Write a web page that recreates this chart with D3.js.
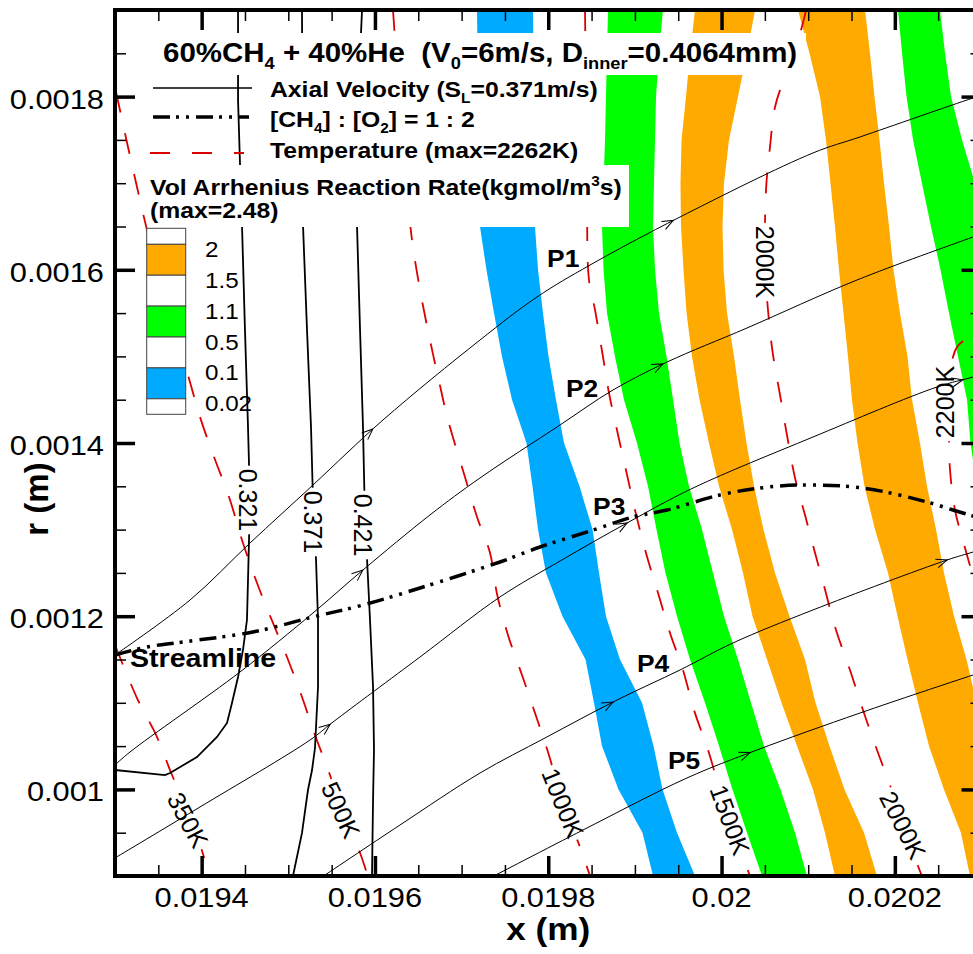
<!DOCTYPE html>
<html>
<head>
<meta charset="utf-8">
<script src="https://cdn.jsdelivr.net/npm/d3@7"></script>
<style>
  html, body { margin: 0; padding: 0; background: #fff; overflow: hidden; }
  svg { display: block; font-family: "Liberation Sans", Arial, Helvetica, sans-serif; }
  text { white-space: pre; }
</style>
</head>
<body>
<svg id="chart" width="973" height="954"></svg>
<script>
// ---------------- data (metres) ----------------
// radial levels shared by the flood-band boundaries (top to bottom)
const rGrid = [0.0019, 0.00185, 0.0018, 0.00175, 0.0017, 0.00165, 0.0016, 0.00155, 0.0015, 0.00145,
               0.0014, 0.00135, 0.0013, 0.00125, 0.0012, 0.00115, 0.0011, 0.00105, 0.001, 0.00095, 0.0009];

// reaction-rate band boundaries: axial position x at each rGrid level
const blueLeft    = [0.0197178,0.0197183,0.0197189,0.0197195,0.0197201,0.0197212,0.0197287,0.0197374,0.0197466,0.0197582,0.0197749,0.0197818,0.0197882,0.0197974,0.0198164,0.0198430,0.0198528,0.0198620,0.0198811,0.0199088,0.0199209];
const blueRight   = [0.0197824,0.0197830,0.0197836,0.0197839,0.0197842,0.0197847,0.0197882,0.0197939,0.0198003,0.0198089,0.0198182,0.0198361,0.0198511,0.0198586,0.0198666,0.0198828,0.0199082,0.0199215,0.0199319,0.0199486,0.0199694];
const greenLeft   = [0.0198690,0.0198678,0.0198666,0.0198655,0.0198638,0.0198620,0.0198638,0.0198678,0.0198770,0.0198874,0.0199024,0.0199151,0.0199249,0.0199353,0.0199486,0.0199636,0.0199809,0.0199971,0.0200126,0.0200294,0.0200467];
const greenRight  = [0.0199324,0.0199278,0.0199244,0.0199232,0.0199220,0.0199209,0.0199232,0.0199278,0.0199365,0.0199440,0.0199515,0.0199624,0.0199774,0.0199901,0.0200028,0.0200190,0.0200340,0.0200490,0.0200680,0.0200848,0.0200986];
const orangeLeft  = [0.0199694,0.0199636,0.0199590,0.0199538,0.0199526,0.0199532,0.0199561,0.0199596,0.0199659,0.0199746,0.0199855,0.0199971,0.0200121,0.0200248,0.0200357,0.0200525,0.0200692,0.0200871,0.0201055,0.0201194,0.0201309];
const orangeRight = [0.0200386,0.0200294,0.0200190,0.0200086,0.0200028,0.0200011,0.0200023,0.0200063,0.0200144,0.0200213,0.0200288,0.0200375,0.0200484,0.0200617,0.0200784,0.0200963,0.0201084,0.0201246,0.0201419,0.0201644,0.0201794];
const orange2Left = [0.0200882,0.0201015,0.0201136,0.0201205,0.0201257,0.0201309,0.0201355,0.0201407,0.0201459,0.0201505,0.0201569,0.0201650,0.0201771,0.0201921,0.0202031,0.0202146,0.0202267,0.0202394,0.0202567,0.0202763,0.0202867];
const orange2Right= [0.0201656,0.0201713,0.0201765,0.0201823,0.0201875,0.0201933,0.0201984,0.0202059,0.0202146,0.0202198,0.0202290,0.0202371,0.0202475,0.0202567,0.0202683,0.0202827,0.0202943,null,null,null,null];
const green2Left  = [0.0202036,0.0202083,0.0202135,0.0202210,0.0202313,0.0202417,0.0202527,0.0202625,0.0202729,0.0202833,0.0202873,0.0202948,0.0203040,null,null,null,null,null,null,null,null];
const green2Right = [0.0202521,0.0202579,0.0202648,0.0202775,0.0202925,0.0203075,null,null,null,null,null,null,null,null,null,null,null,null,null,null,null];

// temperature iso-lines [x, r]
const temp350  = [[0.0193000,0.0011667],[0.0193254,0.0011055],[0.0193485,0.0010605],[0.0193658,0.0010166],[0.0193866,0.0009704],[0.0194096,0.0008988]];
const temp500  = [[0.0193012,0.0018053],[0.0193150,0.0017418],[0.0193254,0.0016956],[0.0193369,0.0016460],[0.0193519,0.0015882],[0.0193658,0.0015340],[0.0193831,0.0014820],[0.0193981,0.0014300],[0.0194143,0.0013838],[0.0194316,0.0013376],[0.0194477,0.0012845],[0.0194639,0.0012383],[0.0194823,0.0011922],[0.0194985,0.0011529],[0.0195158,0.0011067],[0.0195308,0.0010628],[0.0195481,0.0010166],[0.0195608,0.0009762],[0.0195828,0.0009266],[0.0195920,0.0008988]];
const temp1000 = [[0.0196208,0.0019000],[0.0196266,0.0018192],[0.0196347,0.0017152],[0.0196428,0.0016344],[0.0196531,0.0015709],[0.0196647,0.0015132],[0.0196762,0.0014612],[0.0196843,0.0014266],[0.0197039,0.0013607],[0.0197178,0.0013146],[0.0197328,0.0012730],[0.0197409,0.0012256],[0.0197535,0.0011783],[0.0197697,0.0011321],[0.0197847,0.0010882],[0.0197997,0.0010432],[0.0198170,0.0009843],[0.0198366,0.0009335],[0.0198482,0.0009000]];
const temp1500 = [[0.0198424,0.0019000],[0.0198436,0.0017961],[0.0198447,0.0016806],[0.0198470,0.0015882],[0.0198540,0.0015536],[0.0198632,0.0014993],[0.0198701,0.0014577],[0.0198793,0.0014150],[0.0198897,0.0013688],[0.0199001,0.0013226],[0.0199128,0.0012730],[0.0199267,0.0012268],[0.0199405,0.0011806],[0.0199555,0.0011379],[0.0199682,0.0010917],[0.0199844,0.0010455],[0.0199948,0.0010109],[0.0200098,0.0009670],[0.0200248,0.0009219],[0.0200328,0.0009000]];
const temp2000 = [[0.0200975,0.0019000],[0.0200917,0.0018769],[0.0200732,0.0018238],[0.0200617,0.0017880],[0.0200559,0.0017418],[0.0200513,0.0016921],[0.0200502,0.0016090],[0.0200536,0.0015536],[0.0200594,0.0015016],[0.0200675,0.0014554],[0.0200755,0.0014092],[0.0200848,0.0013596],[0.0200963,0.0013169],[0.0201079,0.0012730],[0.0201171,0.0012395],[0.0201321,0.0011841],[0.0201482,0.0011379],[0.0201632,0.0010917],[0.0201794,0.0010455],[0.0201944,0.0010051],[0.0202106,0.0009589],[0.0202267,0.0009115],[0.0202313,0.0009000]];
const temp2200 = [[0.0202787,0.0015178],[0.0202717,0.0015109],[0.0202671,0.0014993],[0.0202648,0.0014843],[0.0202625,0.0014497],[0.0202625,0.0014035],[0.0202637,0.0013688],[0.0202694,0.0013226],[0.0202810,0.0012788],[0.0202890,0.0012510],[0.0203040,0.0012072]];

// axial-velocity iso-lines [x, r]
const vel321 = [[0.0194420,0.0019000],[0.0194420,0.0017961],[0.0194443,0.0017210],[0.0194466,0.0016506],[0.0194500,0.0015305],[0.0194535,0.0014185],[0.0194558,0.0013342],[0.0194535,0.0012418],[0.0194523,0.0011956],[0.0194477,0.0011610],[0.0194420,0.0011298],[0.0194350,0.0010998],[0.0194293,0.0010767],[0.0194177,0.0010605],[0.0193946,0.0010374],[0.0193635,0.0010189],[0.0193577,0.0010166],[0.0193000,0.0010224]];
const vel371 = [[0.0195158,0.0019000],[0.0195170,0.0016506],[0.0195216,0.0015305],[0.0195262,0.0014185],[0.0195285,0.0013342],[0.0195320,0.0012649],[0.0195343,0.0011956],[0.0195343,0.0011182],[0.0195308,0.0010478],[0.0195274,0.0010224],[0.0195227,0.0009993],[0.0195158,0.0009497],[0.0195054,0.0009000]];
const vel421 = [[0.0195851,0.0019000],[0.0195804,0.0017961],[0.0195793,0.0016506],[0.0195828,0.0015305],[0.0195862,0.0014185],[0.0195885,0.0013111],[0.0195908,0.0012672],[0.0195943,0.0011956],[0.0195978,0.0011182],[0.0195989,0.0010455],[0.0195978,0.0009878],[0.0195966,0.0009000]];

// streamlines [x, r] and the x positions of their direction arrows
const stream1 = [[0.0193000,0.0011552],[0.0193866,0.0012187],[0.0194558,0.0012845],[0.0195285,0.0013515],[0.0196093,0.0014266],[0.0197212,0.0015189],[0.0197870,0.0015686],[0.0198482,0.0016055],[0.0199521,0.0016610],[0.0201055,0.0017349],[0.0201598,0.0017534],[0.0202902,0.0017984],[0.0203156,0.0018065]];
const stream2 = [[0.0193000,0.0010282],[0.0193173,0.0010432],[0.0194443,0.0011356],[0.0195285,0.0012037],[0.0195862,0.0012534],[0.0196635,0.0013169],[0.0197212,0.0013596],[0.0198136,0.0014208],[0.0198747,0.0014612],[0.0199371,0.0014935],[0.0200294,0.0015328],[0.0201563,0.0015882],[0.0202902,0.0016379],[0.0203156,0.0016471]];
const stream3 = [[0.0193000,0.0009208],[0.0193981,0.0009797],[0.0195250,0.0010570],[0.0195516,0.0010778],[0.0196520,0.0011529],[0.0197443,0.0012222],[0.0198136,0.0012637],[0.0198909,0.0013076],[0.0199671,0.0013480],[0.0201055,0.0014069],[0.0202487,0.0014647],[0.0202902,0.0014762],[0.0203156,0.0014843]];
const stream4 = [[0.0195389,0.0008988],[0.0196289,0.0009589],[0.0197212,0.0010189],[0.0197963,0.0010594],[0.0198793,0.0011032],[0.0199521,0.0011379],[0.0200132,0.0011691],[0.0201055,0.0012072],[0.0202602,0.0012649],[0.0202902,0.0012741],[0.0203156,0.0012822]];
const stream5 = [[0.0197328,0.0008977],[0.0198401,0.0009531],[0.0199601,0.0010132],[0.0200409,0.0010455],[0.0201598,0.0010882],[0.0202902,0.0011321],[0.0203156,0.0011402]];
const arrows1 = [0.0195978, 0.0199440];
const arrows2 = [0.0195862, 0.0199324];
const arrows3 = [0.0195481, 0.0198909, 0.0202787];
const arrows4 = [0.0198747, 0.0202602];
const arrows5 = [0.0200328];

// stoichiometric line [CH4]:[O2] = 1:2
const stoich = [[0.0193000,0.0011552],[0.0193369,0.0011644],[0.0193785,0.0011702],[0.0194593,0.0011818],[0.0195285,0.0011991],[0.0195862,0.0012129],[0.0196520,0.0012326],[0.0197443,0.0012626],[0.0197905,0.0012799],[0.0198517,0.0012995],[0.0198978,0.0013146],[0.0199371,0.0013226],[0.0199982,0.0013400],[0.0200444,0.0013480],[0.0200905,0.0013515],[0.0201632,0.0013480],[0.0202371,0.0013319],[0.0202671,0.0013226],[0.0202902,0.0013157],[0.0203156,0.0013076]];

// contour labels
const tempLabels = [
  {text: '350K',  x: 0.0193842, r: 0.0009647, angle: 62},
  {text: '500K',  x: 0.0195608, r: 0.0009762, angle: 65},
  {text: '1000K', x: 0.0198170, r: 0.0009843, angle: 68},
  {text: '1500K', x: 0.0200098, r: 0.0009647, angle: 70},
  {text: '2000K', x: 0.0200502, r: 0.0016090, angle: 90},
  {text: '2000K', x: 0.0202094, r: 0.0009589, angle: 63},
  {text: '2200K', x: 0.0202579, r: 0.0014473, angle: -90}
];
const velLabels = [
  {text: '0.321', x: 0.0194535, r: 0.0013342, angle: 90},
  {text: '0.371', x: 0.0195285, r: 0.0013088, angle: 90},
  {text: '0.421', x: 0.0195862, r: 0.0013053, angle: 90}
];
const streamNames = [
  {text: 'P1', x: 0.0197986, r: 0.0016032},
  {text: 'P2', x: 0.0198205, r: 0.0014531},
  {text: 'P3', x: 0.0198517, r: 0.0013169},
  {text: 'P4', x: 0.0199024, r: 0.0011356},
  {text: 'P5', x: 0.0199382, r: 0.0010236},
  {text: 'Streamline', x: 0.0193173, r: 0.0011413}
];

// axis ticks
const xMajor = [0.0194, 0.0196, 0.0198, 0.02, 0.0202];
const xMajorLabels = ['0.0194', '0.0196', '0.0198', '0.02', '0.0202'];
const yMajor = [0.001, 0.0012, 0.0014, 0.0016, 0.0018];
const yMajorLabels = ['0.001', '0.0012', '0.0014', '0.0016', '0.0018'];

// reaction-rate legend
const rateLevels = ['2', '1.5', '1.1', '0.5', '0.1', '0.02'];
const rateColors = ['#ffffff', '#ffaa00', '#ffffff', '#00ff00', '#ffffff', '#00aaff', '#ffffff'];

// ---------------- drawing ----------------
const W = 973, H = 954;
const L = 115, T = 10, R = 981.5, B = 876;
const TXT = 1.1; // horizontal glyph stretch

const x = d3.scaleLinear().domain([0.0193, 0.0203]).range([L, R]);
const y = d3.scaleLinear().domain([0.0009, 0.0019]).range([B, T]);
const xEdge = x.domain()[1] + 0.0001;

const svg = d3.select('#chart');
svg.append('rect').attr('width', W).attr('height', H).attr('fill', '#fff');
const defs = svg.append('defs');
defs.append('clipPath').attr('id', 'plotClip')
  .append('rect').attr('x', L).attr('y', T).attr('width', R - L).attr('height', B - T);
const gapMask = defs.append('mask').attr('id', 'gaps')
  .attr('maskUnits', 'userSpaceOnUse').attr('x', 0).attr('y', 0).attr('width', W).attr('height', H);
gapMask.append('rect').attr('width', W).attr('height', H).attr('fill', '#fff');

const plot = svg.append('g').attr('clip-path', 'url(#plotClip)');

// flood bands
const bands = [
  {left: blueLeft, right: blueRight, color: '#00aaff'},
  {left: greenLeft, right: greenRight, color: '#00ff00'},
  {left: orangeLeft, right: orangeRight, color: '#ffaa00'},
  {left: orange2Left, right: orange2Right, color: '#ffaa00'},
  {left: green2Left, right: green2Right, color: '#00ff00'}
];
const idx = d3.range(rGrid.length);
plot.selectAll('path.band').data(bands).join('path')
  .attr('class', 'band')
  .attr('fill', b => b.color)
  .attr('d', b => d3.area()
    .defined(i => b.left[i] != null)
    .y(i => y(rGrid[i]))
    .x0(i => x(b.left[i]))
    .x1(i => x(b.right[i] != null ? b.right[i] : xEdge))(idx));

const straight = d3.line().x(d => x(d[0])).y(d => y(d[1]));
const smooth = d3.line().x(d => x(d[0])).y(d => y(d[1])).curve(d3.curveCatmullRom.alpha(0.5));

// temperature iso-lines
const tempG = plot.append('g').attr('mask', 'url(#gaps)');
[temp350, temp500, temp1000, temp1500, temp2000, temp2200].forEach(c => {
  tempG.append('path').attr('d', smooth(c)).attr('fill', 'none')
    .attr('stroke', '#dd0000').attr('stroke-width', 1.8).attr('stroke-dasharray', '21,21');
});

// streamlines with arrowheads
const streamG = plot.append('g');
[[stream1, arrows1], [stream2, arrows2], [stream3, arrows3], [stream4, arrows4], [stream5, arrows5]].forEach(([s, arr]) => {
  const p = streamG.append('path').attr('d', smooth(s)).attr('fill', 'none')
    .attr('stroke', '#000').attr('stroke-width', 1);
  const node = p.node();
  const len = node.getTotalLength();
  arr.forEach(ax => {
    const tx = x(ax);
    let best = 0, bestD = Infinity;
    for (let l = 0; l <= len; l += 0.5) {
      const pt = node.getPointAtLength(l);
      const d = Math.abs(pt.x - tx);
      if (d < bestD) { bestD = d; best = l; }
    }
    const p0 = node.getPointAtLength(Math.max(0, best - 2));
    const p1 = node.getPointAtLength(Math.min(len, best + 2));
    const pt = node.getPointAtLength(best);
    const ang = Math.atan2(p1.y - p0.y, p1.x - p0.x) * 180 / Math.PI;
    streamG.append('path')
      .attr('d', 'M-11,-4.5L0,0L-11,4.5')
      .attr('transform', `translate(${pt.x},${pt.y}) rotate(${ang})`)
      .attr('fill', 'none').attr('stroke', '#000').attr('stroke-width', 1);
  });
});

// stoichiometric line
plot.append('path').attr('d', smooth(stoich)).attr('fill', 'none')
  .attr('stroke', '#000').attr('stroke-width', 3.5).attr('stroke-dasharray', '17,6,3,7,3,7');

// axial-velocity iso-lines (two of them sit beneath the legend panel)
const velG = plot.append('g').attr('mask', 'url(#gaps)');
[vel371, vel421].forEach(c => {
  velG.append('path').attr('d', straight(c)).attr('fill', 'none')
    .attr('stroke', '#000').attr('stroke-width', 1.8);
});

// legend panel for the line styles
plot.append('rect').attr('x', 148).attr('y', 75).attr('width', 455).attr('height', 90).attr('fill', '#fff');

plot.append('path').attr('d', straight(vel321)).attr('fill', 'none')
  .attr('stroke', '#000').attr('stroke-width', 1.8).attr('mask', 'url(#gaps)');

// title panel and reaction-rate header panel
plot.append('rect').attr('x', 148).attr('y', 33).attr('width', 658).attr('height', 42).attr('fill', '#fff');
plot.append('rect').attr('x', 148).attr('y', 165).attr('width', 481).attr('height', 62).attr('fill', '#fff');

// contour labels plus the gaps they leave in their lines
const labG = plot.append('g');
tempLabels.concat(velLabels).forEach(lb => {
  const cx = x(lb.x), cy = y(lb.r);
  const t = labG.append('text')
    .attr('transform', `translate(${cx},${cy}) rotate(${lb.angle})`)
    .attr('text-anchor', 'middle').attr('dominant-baseline', 'central')
    .attr('font-size', 25).attr('fill', '#000').text(lb.text);
  const w = t.node().getComputedTextLength() + 6;
  gapMask.append('rect')
    .attr('x', -w / 2).attr('y', -9).attr('width', w).attr('height', 18)
    .attr('transform', `translate(${cx},${cy}) rotate(${lb.angle})`)
    .attr('fill', '#000');
});

// streamline names
streamNames.forEach(s => {
  plot.append('text')
    .attr('transform', `translate(${x(s.x)},${y(s.r)}) scale(${TXT},1)`)
    .attr('font-size', s.text === 'Streamline' ? 26 : 24).attr('font-weight', 'bold')
    .text(s.text);
});

// ---------- legend texts ----------
function stretched(px, py, size, weight, anchor) {
  return svg.append('text')
    .attr('transform', `translate(${px},${py}) scale(${TXT},1)`)
    .attr('font-size', size).attr('font-weight', weight || 'normal')
    .attr('text-anchor', anchor || 'start').attr('fill', '#000');
}
function rich(t, parts, size) {
  let shift = 0;
  parts.forEach(p => {
    const [str, kind] = Array.isArray(p) ? p : [p, 'n'];
    const target = kind === 'sub' ? size * 0.27 : kind === 'sup' ? -size * 0.4 : 0;
    const ts = t.append('tspan').text(str).attr('dy', target - shift);
    if (kind !== 'n') ts.attr('font-size', size * 0.62);
    shift = target;
  });
}

rich(stretched(163, 62, 26.8, 'bold'),
  ['60%CH', ['4', 'sub'], ' + 40%He  (V', ['0', 'sub'], '=6m/s, D', ['inner', 'sub'], '=0.4064mm)'], 26.8);

// line-style samples
svg.append('line').attr('x1', 153).attr('x2', 252).attr('y1', 88).attr('y2', 88)
  .attr('stroke', '#000').attr('stroke-width', 1.3);
svg.append('line').attr('x1', 153).attr('x2', 249).attr('y1', 117).attr('y2', 117)
  .attr('stroke', '#000').attr('stroke-width', 3.5).attr('stroke-dasharray', '17,6,3,7,3,7');
svg.append('line').attr('x1', 150).attr('x2', 244).attr('y1', 153).attr('y2', 153)
  .attr('stroke', '#dd0000').attr('stroke-width', 1.8).attr('stroke-dasharray', '20,22');

rich(stretched(270, 97, 22.5, 'bold'), ['Axial Velocity (S', ['L', 'sub'], '=0.371m/s)'], 22.5);
rich(stretched(270, 127, 22.5, 'bold'), ['[CH', ['4', 'sub'], '] : [O', ['2', 'sub'], '] = 1 : 2'], 22.5);
rich(stretched(270, 158, 22.5, 'bold'), ['Temperature (max=2262K)'], 22.5);
rich(stretched(150, 195, 22.5, 'bold'), ['Vol Arrhenius Reaction Rate(kgmol/m', ['3', 'sup'], 's)'], 22.5);
rich(stretched(150, 218, 22.5, 'bold'), ['(max=2.48)'], 22.5);

// colour bar
const cbY = d3.scaleLinear().domain([0, rateLevels.length - 1]).range([244.3, 398.8]);
rateColors.forEach((c, k) => {
  const top = k === 0 ? cbY(0) - 16 : cbY(k - 1);
  const bot = k === rateColors.length - 1 ? cbY(rateLevels.length - 1) + 15.5 : cbY(k);
  svg.append('rect').attr('x', 146.7).attr('y', top).attr('width', 39).attr('height', bot - top)
    .attr('fill', c).attr('stroke', '#444').attr('stroke-width', 1);
});
rateLevels.forEach((lv, i) => {
  stretched(205, cbY(i) + 12.5, 22, 'normal').text(lv);
});

// ---------- axes ----------
const axG = svg.append('g');
function styleAxis(g, w) {
  g.select('.domain').remove();
  g.selectAll('.tick line').attr('stroke', '#000').attr('stroke-width', w);
  g.selectAll('.tick text').remove();
}
const xMinor = d3.range(0, 21).map(i => +(0.0193 + i * 0.00005).toFixed(6)).filter(v => !xMajor.some(m => Math.abs(m - v) < 1e-9));
const yMinor = d3.range(0, 21).map(i => +(0.0009 + i * 0.00005).toFixed(6)).filter(v => !yMajor.some(m => Math.abs(m - v) < 1e-9));

axG.append('g').attr('transform', `translate(0,${B})`).call(d3.axisBottom(x).tickValues(xMajor).tickSize(-20).tickFormat('')).call(styleAxis, 3.5);
axG.append('g').attr('transform', `translate(0,${B})`).call(d3.axisBottom(x).tickValues(xMinor).tickSize(-11).tickFormat('')).call(styleAxis, 1.5);
axG.append('g').attr('transform', `translate(0,${T})`).call(d3.axisTop(x).tickValues(xMajor).tickSize(-20).tickFormat('')).call(styleAxis, 3.5);
axG.append('g').attr('transform', `translate(0,${T})`).call(d3.axisTop(x).tickValues(xMinor).tickSize(-11).tickFormat('')).call(styleAxis, 1.5);
axG.append('g').attr('transform', `translate(${L},0)`).call(d3.axisLeft(y).tickValues(yMajor).tickSize(-20).tickFormat('')).call(styleAxis, 3.5);
axG.append('g').attr('transform', `translate(${L},0)`).call(d3.axisLeft(y).tickValues(yMinor).tickSize(-11).tickFormat('')).call(styleAxis, 1.5);
axG.append('g').attr('transform', `translate(${R},0)`).call(d3.axisRight(y).tickValues(yMajor).tickSize(-20).tickFormat('')).call(styleAxis, 3.5);
axG.append('g').attr('transform', `translate(${R},0)`).call(d3.axisRight(y).tickValues(yMinor).tickSize(-11).tickFormat('')).call(styleAxis, 1.5);

axG.append('rect').attr('x', L).attr('y', T).attr('width', R - L).attr('height', B - T)
  .attr('fill', 'none').attr('stroke', '#000').attr('stroke-width', 4);

xMajor.forEach((v, i) => stretched(x(v), 907, 28, 'normal', 'middle').text(xMajorLabels[i]));
yMajor.forEach((v, i) => stretched(104, y(v) + 12, 28, 'normal', 'end').text(yMajorLabels[i]));

stretched((L + R) / 2, 940, 32, 'bold', 'middle').text('x (m)');
svg.append('text').attr('transform', 'translate(48,499) rotate(-90)')
  .attr('text-anchor', 'middle').attr('font-size', 33).attr('font-weight', 'bold').text('r (m)');
</script>
</body>
</html>
